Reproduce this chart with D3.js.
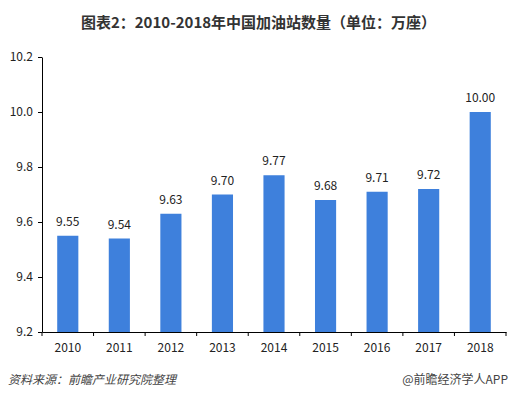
<!DOCTYPE html>
<html>
<head>
<meta charset="utf-8">
<script src="https://cdn.jsdelivr.net/npm/d3@7"></script>
<style>
  body { margin: 0; background: #fff; }
  text { font-family: "Microsoft YaHei", "Noto Sans CJK SC", "DejaVu Sans", sans-serif; }
</style>
</head>
<body>
<svg width="517" height="398"></svg>
<script>
const years = ["2010", "2011", "2012", "2013", "2014", "2015", "2016", "2017", "2018"]
const stations = [9.55, 9.54, 9.63, 9.70, 9.77, 9.68, 9.71, 9.72, 10.00]
const yTicks = [9.2, 9.4, 9.6, 9.8, 10.0, 10.2]

const svg = d3.select("svg")
const width = +svg.attr("width")

// plot area
const plotLeft = 42, plotRight = 506, plotTop = 57, plotBottom = 332

const x = d3.scaleBand()
  .domain(years)
  .range([plotLeft, plotRight])
  .paddingInner(0.59)
  .paddingOuter(0.295)

const y = d3.scaleLinear()
  .domain([9.2, 10.2])
  .range([plotBottom, plotTop])

// title
svg.append("text")
  .attr("x", width / 2)
  .attr("y", 28)
  .attr("text-anchor", "middle")
  .attr("font-size", 15)
  .attr("font-weight", "bold")
  .attr("fill", "#333")
  .text("图表2：2010-2018年中国加油站数量（单位：万座）")

// bars
svg.selectAll("rect.bar")
  .data(stations)
  .join("rect")
  .attr("class", "bar")
  .attr("x", (d, i) => x(years[i]))
  .attr("width", x.bandwidth())
  .attr("y", d => y(d))
  .attr("height", d => y(9.2) - y(d))
  .attr("fill", "#3e80dc")

// value labels
svg.selectAll("text.val")
  .data(stations)
  .join("text")
  .attr("class", "val")
  .attr("x", (d, i) => x(years[i]) + x.bandwidth() / 2)
  .attr("y", d => y(d) - 10)
  .attr("text-anchor", "middle")
  .attr("font-size", 12)
  .attr("fill", "#222")
  .text(d => d.toFixed(2))

// y axis
const yAxis = svg.append("g")
  .attr("transform", `translate(${plotLeft},0)`)
  .call(d3.axisLeft(y).tickValues(yTicks).tickFormat(d3.format(".1f")).tickSize(4).tickSizeOuter(0))
yAxis.select(".domain").attr("stroke", "#000")
yAxis.selectAll("text").attr("font-size", 12).attr("fill", "#222").attr("x", -9)

// x axis with ticks at band edges
const xAxis = svg.append("g")
  .attr("transform", `translate(0,${plotBottom})`)
  .call(d3.axisBottom(x).tickSize(0).tickSizeOuter(0))
xAxis.select(".domain").attr("stroke", "#000")
xAxis.selectAll("text").attr("font-size", 12).attr("fill", "#222").attr("dy", "1.45em")
xAxis.selectAll("line.edge")
  .data(years.concat(["end"]))
  .join("line")
  .attr("class", "edge")
  .attr("x1", (d, i) => plotLeft + i * x.step())
  .attr("x2", (d, i) => plotLeft + i * x.step())
  .attr("y1", 0)
  .attr("y2", 4)
  .attr("stroke", "#000")

// footer
svg.append("text")
  .attr("x", 8)
  .attr("y", 384)
  .attr("font-size", 12)
  .attr("font-style", "italic")
  .attr("fill", "#444")
  .text("资料来源：前瞻产业研究院整理")

svg.append("text")
  .attr("x", 508)
  .attr("y", 384)
  .attr("text-anchor", "end")
  .attr("font-size", 12)
  .attr("fill", "#444")
  .text("@前瞻经济学人APP")
</script>
</body>
</html>
